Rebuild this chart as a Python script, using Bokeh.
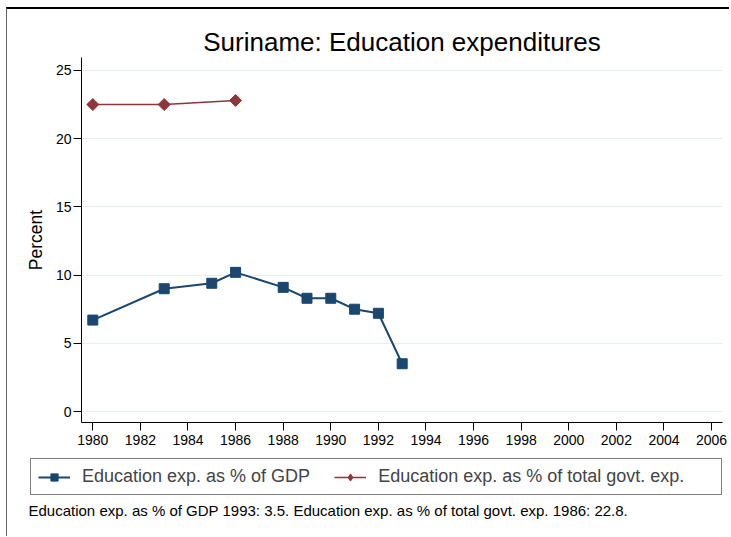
import numpy as np
from bokeh.plotting import figure
from bokeh.layouts import column
from bokeh.models import Range1d, FixedTicker, Legend, LegendItem, Label
from bokeh.embed import file_html
from bokeh.resources import INLINE

# ---- data ----
gdp_years = [1980, 1983, 1985, 1986, 1988, 1989, 1990, 1991, 1992, 1993]
gdp_values = [6.7, 9.0, 9.4, 10.2, 9.1, 8.3, 8.3, 7.5, 7.2, 3.5]
govt_years = [1980, 1983, 1986]
govt_values = [22.5, 22.5, 22.8]
x_ticks = list(range(1980, 2007, 2))
y_ticks = [0, 5, 10, 15, 20, 25]
title_text = "Suriname: Education expenditures"
label_gdp = "Education exp. as % of GDP"
label_govt = "Education exp. as % of total govt. exp."
note_text = "Education exp. as % of GDP 1993: 3.5. Education exp. as % of total govt. exp. 1986: 22.8."

BLUE = "#1a476f"
RED = "#90353b"
FONT = "Liberation Sans"
W = 722

# ---------------- main plot ----------------
p = figure(width=W, height=443, output_backend="svg", toolbar_location=None,
           x_range=Range1d(1979.525, 2006.46), y_range=Range1d(-0.806, 25.95),
           min_border_left=74, min_border_right=7, min_border_top=48, min_border_bottom=30)
p.outline_line_color = None
p.background_fill_color = "white"
p.border_fill_color = "white"

p.title.text = title_text
p.title.align = "center"
p.title.text_font = FONT
p.title.text_font_size = "26px"
p.title.text_font_style = "normal"
p.title.text_color = "black"
p.title.standoff = 2

for ax in (p.xaxis[0], p.yaxis[0]):
    ax.axis_line_color = "black"
    ax.major_tick_line_color = "black"
    ax.major_tick_out = 8
    ax.major_tick_in = 0
    ax.minor_tick_line_color = None
    ax.major_label_text_font = FONT
    ax.major_label_text_font_size = "14px"
    ax.major_label_text_color = "black"
p.xaxis.ticker = FixedTicker(ticks=x_ticks)
p.yaxis.ticker = FixedTicker(ticks=y_ticks)
p.xaxis.major_label_standoff = 4
p.yaxis.major_label_standoff = 2
p.yaxis.axis_label = "Percent"
p.yaxis.axis_label_text_font = FONT
p.yaxis.axis_label_text_font_size = "17.5px"
p.yaxis.axis_label_text_font_style = "normal"
p.yaxis.axis_label_text_color = "black"
p.yaxis.axis_label_standoff = 7
p.xgrid.grid_line_color = None
p.ygrid.grid_line_color = "#e6eef1"
p.ygrid.grid_line_width = 1.2

p.line(gdp_years, gdp_values, line_color=BLUE, line_width=2)
p.scatter(gdp_years, gdp_values, marker="square", size=10,
          fill_color=BLUE, line_color=BLUE, line_width=1)
p.line(govt_years, govt_values, line_color=RED, line_width=1.5)
p.scatter(govt_years, govt_values, marker="square", angle=np.pi / 4, size=8.5,
          fill_color=RED, line_color=RED, line_width=1)

# ---------------- legend + note strip ----------------
H2 = 84
q = figure(width=W, height=H2, output_backend="svg", toolbar_location=None,
           x_range=Range1d(0, W), y_range=Range1d(0, H2),
           x_axis_type=None, y_axis_type=None,
           min_border_left=0, min_border_right=0, min_border_top=0, min_border_bottom=0)
q.outline_line_color = None
q.xgrid.visible = False
q.ygrid.visible = False
q.background_fill_color = "white"
q.border_fill_color = "white"

for fig in (p, q):
    try:
        fig.frame_align = False
    except Exception:
        pass

# proxy renderers (same series, outside the strip's visible range) for the legend keys
ql1 = q.line(gdp_years, gdp_values, line_color=BLUE, line_width=2)
qs1 = q.scatter(gdp_years, gdp_values, marker="square", size=10,
                fill_color=BLUE, line_color=BLUE, line_width=1)
ql2 = q.line(govt_years, govt_values, line_color=RED, line_width=1.5)
qs2 = q.scatter(govt_years, govt_values, marker="diamond", size=14,
                fill_color=RED, line_color=RED, line_width=1)

NB = "\u00a0" * 6
legend = Legend(items=[LegendItem(label=label_gdp, renderers=[ql1, qs1]),
                       LegendItem(label=label_govt + NB, renderers=[ql2, qs2])],
                orientation="horizontal", location=(23, 41),
                padding=7, spacing=24, glyph_width=32, glyph_height=18,
                label_standoff=12, label_height=18,
                label_text_font=FONT, label_text_font_size="18px",
                border_line_color="black", border_line_width=1,
                background_fill_color="white", background_fill_alpha=1,
                margin=0)
q.add_layout(legend, "center")

note = Label(x=21, y=26, x_units="screen", y_units="screen", text=note_text,
             text_font=FONT, text_font_size="15px", text_align="left",
             text_baseline="middle", text_color="black")
q.add_layout(note)

layout = column(p, q, spacing=0,
                styles={"margin-left": "6px", "margin-top": "7px",
                        "border-top": "2px solid #000000",
                        "border-left": "1px solid #666666"})
open("out.html", "w").write(file_html(layout, INLINE))
